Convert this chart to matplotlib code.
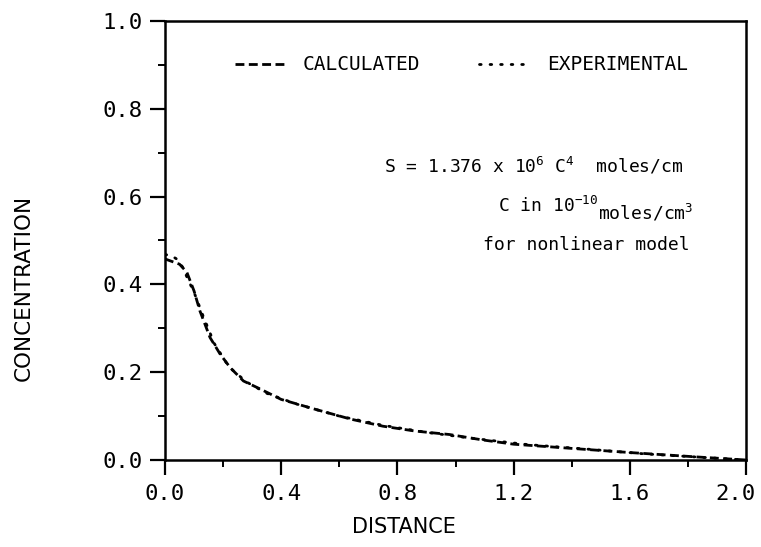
import matplotlib.pyplot as plt
import matplotlib.transforms as mtransforms
from matplotlib.ticker import MultipleLocator

# values
dist_calc = [0.0, 0.05, 0.075, 0.10, 0.12, 0.155, 0.19, 0.225, 0.27, 0.33, 0.40,
             0.52, 0.64, 0.75, 0.86, 0.98, 1.09, 1.20, 1.43, 1.60, 1.83, 2.0]
conc_calc = [0.458, 0.446, 0.428, 0.385, 0.340, 0.279, 0.241, 0.210, 0.180, 0.161, 0.138,
             0.115, 0.093, 0.077, 0.066, 0.058, 0.046, 0.036, 0.025, 0.017, 0.007, 0.0]

dist_exp = [0.0, 0.02, 0.04, 0.06, 0.08, 0.10, 0.13, 0.17, 0.22, 0.28, 0.35, 0.45,
            0.60, 0.75, 0.90, 1.05, 1.25, 1.45, 1.65, 1.85, 2.0]
conc_exp = [0.468, 0.466, 0.458, 0.440, 0.410, 0.382, 0.330, 0.265, 0.212, 0.178, 0.152, 0.128,
            0.100, 0.079, 0.063, 0.050, 0.035, 0.025, 0.014, 0.006, 0.0]

xticks = [0.0, 0.4, 0.8, 1.2, 1.6, 2.0]
yticks = [0.0, 0.2, 0.4, 0.6, 0.8, 1.0]

MONO = 'DejaVu Sans Mono'
plt.rcParams['font.family'] = ['Liberation Sans Narrow', 'DejaVu Sans']
plt.rcParams['mathtext.default'] = 'regular'

W, H = 761, 547
fig = plt.figure(figsize=(W / 100, H / 100), dpi=100)
# frame: x 165..746 px, y 21..460 px
ax = fig.add_axes([165 / W, 1 - 460 / H, 581 / W, 439 / H])

ax.plot(dist_calc, conc_calc, color='black', lw=2.0, ls=(0, (3.2, 1.6)), label='CALCULATED')
ax.plot(dist_exp, conc_exp, color='black', lw=2.0, ls=(0, (0.6, 3.2)),
        dash_capstyle='round', label='EXPERIMENTAL')

ax.set_xlim(0, 2.0)
ax.set_ylim(0, 1.0)
ax.set_xticks(xticks)
ax.set_yticks(yticks)
ax.set_xticklabels(['%.1f' % v for v in xticks], family=MONO, fontsize=16)
ax.set_yticklabels(['%.1f' % v for v in yticks], family=MONO, fontsize=16)
ax.xaxis.set_minor_locator(MultipleLocator(0.2))
ax.yaxis.set_minor_locator(MultipleLocator(0.1))
ax.tick_params(which='major', direction='out', length=11, width=1.6)
ax.tick_params(axis='y', which='major', pad=5)
ax.tick_params(axis='x', which='major', pad=6)
ax.tick_params(which='minor', direction='out', length=5, width=1.4)
for s in ax.spines.values():
    s.set_linewidth(1.8)

# the last x label sits a little left of its tick in the original
last = ax.get_xticklabels()[-1]
last.set_transform(last.get_transform() +
                   mtransforms.ScaledTranslation(-11 / 100, 0, fig.dpi_scale_trans))

ax.legend(loc='center left', bbox_to_anchor=(70 / 581, (460 - 65) / 439), ncol=2,
          frameon=False, prop={'family': MONO, 'size': 14}, handlelength=2.6,
          handletextpad=0.9, columnspacing=3.0, borderpad=0, borderaxespad=0)

fig.text(683 / W, 1 - 166 / H, r'S = 1.376 x 10$^6$ C$^4$  moles/cm',
         ha='right', va='center', family=MONO, fontsize=13)
t2 = fig.text(693 / W, 1 - 213 / H, r'moles/cm$^3$', ha='right', va='center',
              family=MONO, fontsize=13)
ax.annotate(r'C in 10$^{-10}$', xy=(0, 0.35), xycoords=t2, ha='right', va='bottom',
            family=MONO, fontsize=13, annotation_clip=False)
fig.text(690 / W, 1 - 245 / H, 'for nonlinear model', ha='right', va='center',
         family=MONO, fontsize=13)

fig.text(404 / W, 1 - 527 / H, 'DISTANCE', ha='center', va='center', fontsize=15)
fig.text(24 / W, 1 - 288 / H, 'CONCENTRATION', ha='center', va='center',
         rotation=90, fontsize=15.5)

fig.savefig('out.png', dpi=100)
